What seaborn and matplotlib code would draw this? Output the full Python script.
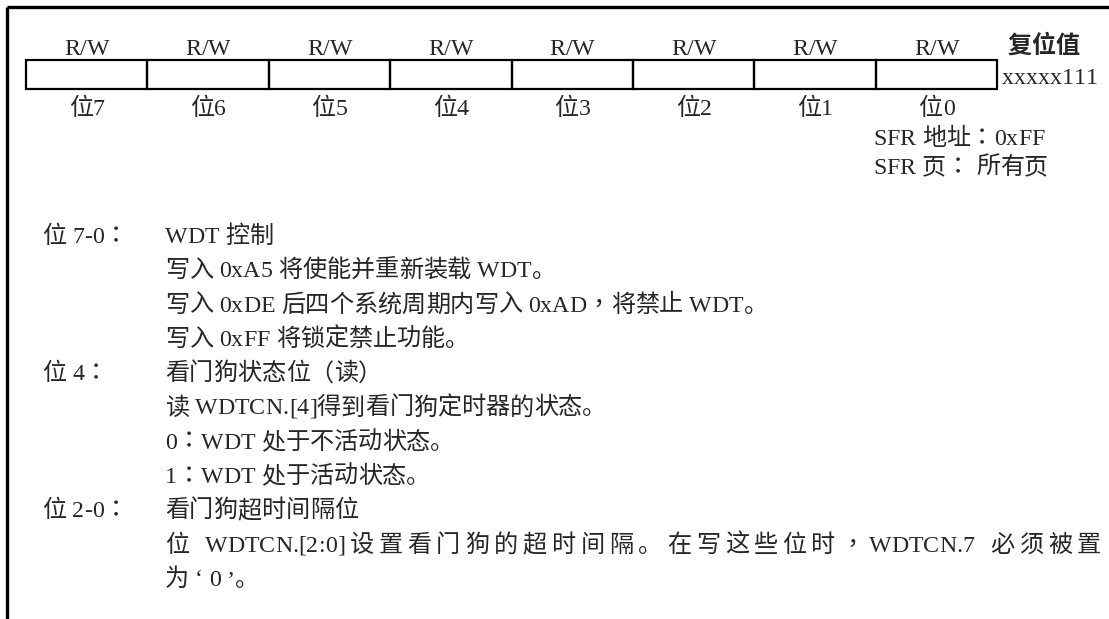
"""
WDTCN 寄存器说明图 (寄存器位格 + 位功能说明) → out.png
"""

import matplotlib
matplotlib.use('Agg')
import matplotlib.pyplot as plt
import matplotlib.patches as mpatches
from matplotlib.font_manager import FontProperties
import seaborn as sns

sns.set_style('white')
plt.rcParams['font.family'] = ['Liberation Serif', 'Noto Sans CJK SC']

# ── 数据 ─────────────────────────────────────────────────────────────────────
access      = ['R/W', 'R/W', 'R/W', 'R/W', 'R/W', 'R/W', 'R/W', 'R/W']
bit_names   = ['位7', '位6', '位5', '位4', '位3', '位2', '位1', '位0']
reset_title = '复位值'
reset_value = 'xxxxx111'
sfr_info    = ['SFR 地址：0xFF', 'SFR 页： 所有页']

field_names = ['位 7-0：', '位 4：', '位 2-0：']
field_lines = [
    ['WDT 控制',
     '写入 0xA5 将使能并重新装载 WDT。',
     '写入 0xDE 后四个系统周期内写入 0xAD，将禁止 WDT。',
     '写入 0xFF 将锁定禁止功能。'],
    ['看门狗状态位（读）',
     '读 WDTCN.[4]得到看门狗定时器的状态。',
     '0：WDT 处于不活动状态。',
     '1：WDT 处于活动状态。'],
    ['看门狗超时间隔位',
     '位 WDTCN.[2:0]设置看门狗的超时间隔。在写这些位时，WDTCN.7 必须被置',
     '为 ‘ 0 ’。'],
]
wrapped = {(2, 1)}          # 两端对齐 (段落折行) 的那一行

# ── 版面 (像素坐标) ─────────────────────────────────────────────────────────
W, H      = 1109, 619
FS_LAT    = 17.2            # Times 类西文
FS_CJK    = 17.4            # 中文黑体
BASE      = 8               # 视觉中线 → 基线
BOX_X0    = 26
CELL_W    = 121.4
BOX_TOP   = 60
BOX_BOT   = 89
ROW0      = 235
ROW_H     = 34.3
RIGHT     = 1101

fig = plt.figure(figsize=(W / 100, H / 100), dpi=100)
ax = fig.add_axes([0, 0, 1, 1])
ax.set_xlim(0, W)
ax.set_ylim(H, 0)
ax.axis('off')
renderer = fig.canvas.get_renderer()
_adv_cache = {}


def is_cjk(ch):
    return ord(ch) >= 0x2E80


def char_style(ch):
    if ch in '：，':
        return 'Noto Sans CJK TC', FS_CJK          # 居中的全角标点
    if is_cjk(ch):
        return 'Noto Sans CJK SC', FS_CJK
    return 'Liberation Serif', FS_LAT


def advance(ch, fam, size, weight):
    key = (ch, fam, size, weight)
    if key not in _adv_cache:
        prop = FontProperties(family=fam, size=size, weight=weight)
        w1, _, _ = renderer.get_text_width_height_descent('|' + ch + '|', prop, False)
        w0, _, _ = renderer.get_text_width_height_descent('||', prop, False)
        _adv_cache[key] = w1 - w0
    return _adv_cache[key]


def draw_text(x, y, s, ha='left', weight='normal', justify_to=None):
    glyphs = []
    for ch in s:
        fam, size = char_style(ch)
        glyphs.append((ch, fam, size, advance(ch, fam, size, weight)))
    total = sum(g[3] for g in glyphs)

    # 两端对齐: 额外空白只加在中文字符/空格的间隙上, 西文单词内部不拉开
    slots = [False] * len(glyphs)
    for i in range(len(glyphs) - 1):
        a, b = glyphs[i][0], glyphs[i + 1][0]
        slots[i] = is_cjk(a) or is_cjk(b) or a == ' ' or b == ' '
    gap = 0.0
    if justify_to is not None and any(slots):
        gap = (justify_to - x - total) / sum(slots)
    if ha == 'center':
        x -= total / 2
    for (ch, fam, size, adv), slot in zip(glyphs, slots):
        if ch != ' ':
            ax.text(x, y + BASE, ch, ha='left', va='baseline', family=fam,
                    fontsize=size, fontweight=weight)
        x += adv + (gap if slot else 0.0)


# 外框 (上边 + 左边)
ax.plot([7, W], [7, 7], color='black', lw=2.4, solid_capstyle='butt')
ax.plot([7, 7], [7, H], color='black', lw=2.4, solid_capstyle='butt')

# 寄存器位格
for i, (acc, name) in enumerate(zip(access, bit_names)):
    x = BOX_X0 + i * CELL_W
    ax.add_patch(mpatches.Rectangle((x, BOX_TOP), CELL_W, BOX_BOT - BOX_TOP,
                                    fill=False, edgecolor='black', lw=1.6))
    xc = x + CELL_W / 2
    draw_text(xc, 47, acc, ha='center')
    draw_text(xc, 107, name, ha='center')

box_right = BOX_X0 + len(access) * CELL_W
draw_text(box_right + 10, 45, reset_title, weight='bold')
draw_text(box_right + 5, 76, reset_value)

for j, line in enumerate(sfr_info):
    draw_text(873, 137 + j * 29, line)

# 位功能说明
row = 0
for f, (name, lines) in enumerate(zip(field_names, field_lines)):
    draw_text(42, ROW0 + row * ROW_H, name)
    for k, line in enumerate(lines):
        just = RIGHT if (f, k) in wrapped else None
        draw_text(165, ROW0 + row * ROW_H, line, justify_to=just)
        row += 1

fig.savefig('out.png', dpi=100)
plt.close(fig)
